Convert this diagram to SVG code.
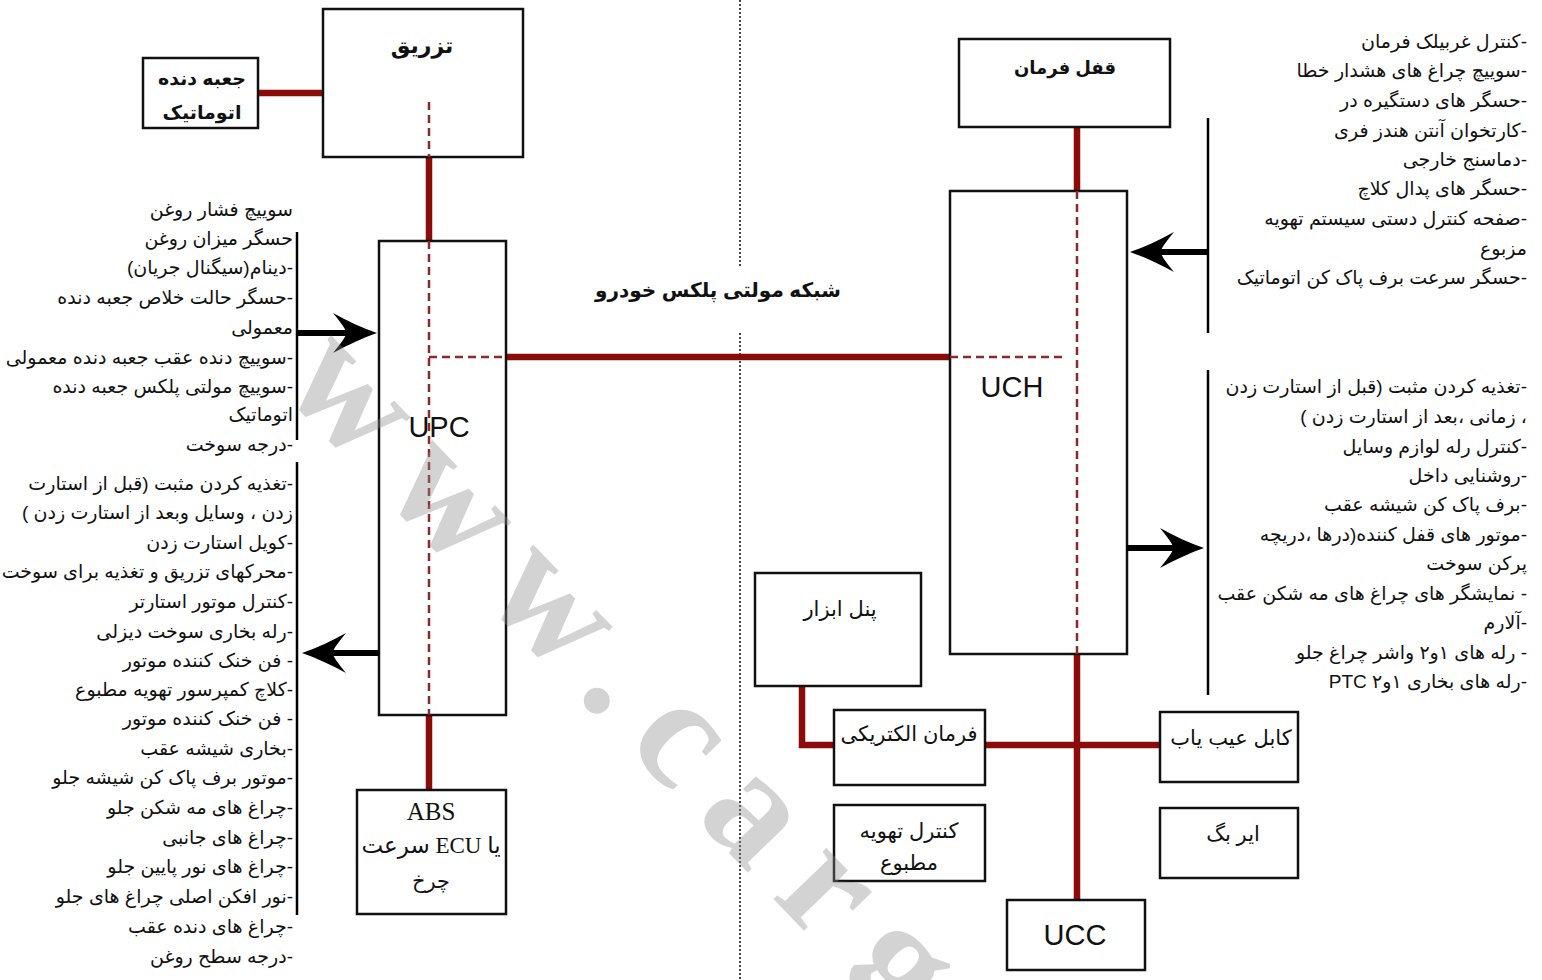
<svg xmlns="http://www.w3.org/2000/svg" width="1542" height="980" viewBox="0 0 1542 980">
<style>
.box{fill:#fff;stroke:#111;stroke-width:2.5}
.bus{fill:none;stroke:#8b0a0a;stroke-width:6.5}
.dash{fill:none;stroke:#8b2a2a;stroke-width:2.5;stroke-dasharray:8 5}
.blk{fill:none;stroke:#000;stroke-width:2.5}
.arr{fill:none;stroke:#000;stroke-width:6}
.sep{fill:none;stroke:#444;stroke-width:2;stroke-dasharray:2 2}
.fa{font-family:"Liberation Sans","DejaVu Sans",sans-serif;font-size:19px;fill:#111;direction:rtl;dominant-baseline:central}
.lb{font-family:"Liberation Sans","DejaVu Sans",sans-serif;font-size:21px;fill:#111;direction:rtl;text-anchor:middle;dominant-baseline:central}
.bd{font-weight:bold}
.en{font-family:"Liberation Sans",Arial,sans-serif;font-size:29px;fill:#111;text-anchor:middle;dominant-baseline:central}
.wm{font-family:"Liberation Serif",serif;font-weight:bold;font-size:160px;letter-spacing:30px;fill:#8c8c8c;fill-opacity:0.38}
</style>
<defs>
<path id="head" d="M0 0 C-14 -5 -30 -12 -44 -20 C-36 -10 -31 -4 -31 0 C-31 4 -36 10 -44 20 C-30 12 -14 5 0 0 Z" fill="#000"/>
</defs>
<rect width="1542" height="980" fill="#fff"/>

<g id="separator">
<line class="sep" x1="740" y1="0" x2="740" y2="267"/>
<line class="sep" x1="740" y1="333" x2="740" y2="980"/>
</g>

<g id="connectors">
<line class="bus" x1="258" y1="93" x2="330" y2="93"/>
<line class="bus" x1="429" y1="157" x2="429" y2="241"/>
<line class="bus" x1="429" y1="715" x2="429" y2="790"/>
<line class="bus" x1="506" y1="357" x2="950" y2="357"/>
<line class="bus" x1="1077" y1="127" x2="1077" y2="191"/>
<line class="bus" x1="1077" y1="654" x2="1077" y2="900"/>
<path class="bus" d="M802 686 V745 H834"/>
<line class="bus" x1="985" y1="745" x2="1160" y2="745"/>
</g>

<g id="node-injection">
<rect class="box" x="323" y="9" width="200" height="148"/>
<text class="lb bd" x="422" y="45" style="font-size:22px">تزریق</text>
</g>
<g id="node-gearbox">
<rect class="box" x="143" y="58" width="115" height="70"/>
<text class="lb bd" x="202" y="78" style="font-size:19px">جعبه دنده</text>
<text class="lb bd" x="202" y="112" style="font-size:19px">اتوماتیک</text>
</g>
<g id="node-upc">
<rect class="box" x="379" y="241" width="127" height="474"/>
<text class="en" x="439" y="427">UPC</text>
</g>
<g id="node-abs">
<rect class="box" x="357" y="790" width="149" height="124"/>
<text class="en" x="431" y="811" style="font-family:'Liberation Serif',serif;font-size:25px">ABS</text>
<text class="lb" x="431" y="845" style="font-family:'Liberation Serif','DejaVu Sans',serif;font-size:23px">یا ECU سرعت</text>
<text class="lb" x="431" y="880">چرخ</text>
</g>
<g id="node-steering-lock">
<rect class="box" x="959" y="39" width="211" height="88"/>
<text class="lb bd" x="1065" y="68" style="font-size:18px">قفل فرمان</text>
</g>
<g id="node-uch">
<rect class="box" x="950" y="191" width="177" height="463"/>
<text class="en" x="1012" y="387">UCH</text>
</g>
<g id="node-panel">
<rect class="box" x="755" y="573" width="166" height="113"/>
<text class="lb" x="840" y="608">پنل ابزار</text>
</g>
<g id="node-electric-steering">
<rect class="box" x="834" y="710" width="151" height="75"/>
<text class="lb" x="909" y="733">فرمان الکتریکی</text>
</g>
<g id="node-ac-control">
<rect class="box" x="834" y="805" width="151" height="76"/>
<text class="lb" x="909" y="830">کنترل تهویه</text>
<text class="lb" x="909" y="862">مطبوع</text>
</g>
<g id="node-diag">
<rect class="box" x="1160" y="712" width="138" height="70"/>
<text class="lb" x="1231" y="737">کابل عیب یاب</text>
</g>
<g id="node-airbag">
<rect class="box" x="1160" y="808" width="138" height="70"/>
<text class="lb" x="1233" y="833">ایر بگ</text>
</g>
<g id="node-ucc">
<rect class="box" x="1007" y="900" width="138" height="70"/>
<text class="en" x="1075" y="935">UCC</text>
</g>

<g id="internal-bus">
<line class="dash" x1="429" y1="102" x2="429" y2="157"/>
<line class="dash" x1="429" y1="241" x2="429" y2="715"/>
<line class="dash" x1="429" y1="357" x2="506" y2="357"/>
<line class="dash" x1="1077" y1="191" x2="1077" y2="654"/>
<line class="dash" x1="950" y1="357" x2="1062" y2="357"/>
</g>

<text class="lb bd" x="718" y="290" style="font-size:20px">شبکه مولتی پلکس خودرو</text>

<g id="arrows">
<line class="blk" x1="297" y1="232" x2="297" y2="440"/>
<line class="arr" x1="297" y1="333" x2="347" y2="333"/>
<use href="#head" transform="translate(377,333)"/>
<line class="blk" x1="297" y1="462" x2="297" y2="915"/>
<line class="arr" x1="379" y1="653" x2="333" y2="653"/>
<use href="#head" transform="translate(302,653) rotate(180)"/>
<line class="blk" x1="1208" y1="118" x2="1208" y2="333"/>
<line class="arr" x1="1208" y1="252" x2="1160" y2="252"/>
<use href="#head" transform="translate(1130,252) rotate(180)"/>
<line class="blk" x1="1208" y1="370" x2="1208" y2="695"/>
<line class="arr" x1="1127" y1="548" x2="1174" y2="548"/>
<use href="#head" transform="translate(1204,548)"/>
</g>

<g id="list-upc-in">
<text class="fa" x="293" y="209">سوییچ فشار روغن</text>
<text class="fa" x="293" y="238">حسگر میزان روغن</text>
<text class="fa" x="293" y="267">-دینام(سیگنال جریان)</text>
<text class="fa" x="293" y="297">-حسگر حالت خلاص جعبه دنده</text>
<text class="fa" x="293" y="327">معمولی</text>
<text class="fa" x="293" y="357">-سوییچ  دنده عقب جعبه دنده معمولی</text>
<text class="fa" x="293" y="386">-سوییچ مولتی پلکس جعبه دنده</text>
<text class="fa" x="293" y="414">اتوماتیک</text>
<text class="fa" x="293" y="444">-درجه سوخت</text>
</g>
<g id="list-upc-out">
<text class="fa" x="293" y="483">-تغذیه کردن مثبت (قبل از استارت</text>
<text class="fa" x="293" y="512">زدن ، وسایل  وبعد از استارت زدن )</text>
<text class="fa" x="293" y="542">-کویل استارت زدن</text>
<text class="fa" x="293" y="571">-محرکهای تزریق و تغذیه برای سوخت</text>
<text class="fa" x="293" y="601">-کنترل موتور استارتر</text>
<text class="fa" x="293" y="631">-رله بخاری سوخت دیزلی</text>
<text class="fa" x="293" y="660">- فن خنک کننده موتور</text>
<text class="fa" x="293" y="689">-کلاچ کمپرسور تهویه مطبوع</text>
<text class="fa" x="293" y="718">- فن خنک کننده موتور</text>
<text class="fa" x="293" y="748">-بخاری شیشه عقب</text>
<text class="fa" x="293" y="777">-موتور برف پاک کن شیشه جلو</text>
<text class="fa" x="293" y="807">-چراغ های مه شکن جلو</text>
<text class="fa" x="293" y="837">-چراغ های جانبی</text>
<text class="fa" x="293" y="866">-چراغ های نور پایین جلو</text>
<text class="fa" x="293" y="896">-نور افکن اصلی چراغ های جلو</text>
<text class="fa" x="293" y="926">-چراغ های دنده عقب</text>
<text class="fa" x="293" y="956">-درجه سطح روغن</text>
</g>
<g id="list-uch-in">
<text class="fa" x="1527" y="41">-کنترل غربیلک فرمان</text>
<text class="fa" x="1527" y="70">-سوییچ چراغ های هشدار خطا</text>
<text class="fa" x="1527" y="100">-حسگر های دستگیره در</text>
<text class="fa" x="1527" y="130">-کارتخوان آنتن هندز فری</text>
<text class="fa" x="1527" y="159">-دماسنج خارجی</text>
<text class="fa" x="1527" y="188">-حسگر های پدال کلاچ</text>
<text class="fa" x="1527" y="218">-صفحه کنترل دستی سیستم تهویه</text>
<text class="fa" x="1527" y="248">مزبوع</text>
<text class="fa" x="1527" y="277">-حسگر سرعت برف پاک کن اتوماتیک</text>
</g>
<g id="list-uch-out">
<text class="fa" x="1527" y="386">-تغذیه کردن مثبت (قبل از استارت زدن</text>
<text class="fa" x="1527" y="416">، زمانی ،بعد از استارت زدن )</text>
<text class="fa" x="1527" y="446">-کنترل رله لوازم وسایل</text>
<text class="fa" x="1527" y="475">-روشنایی داخل</text>
<text class="fa" x="1527" y="504">-برف پاک کن شیشه عقب</text>
<text class="fa" x="1527" y="534">-موتور های قفل کننده(درها ،دریچه</text>
<text class="fa" x="1527" y="563">پرکن سوخت</text>
<text class="fa" x="1527" y="593">- نمایشگر های چراغ های مه شکن عقب</text>
<text class="fa" x="1527" y="622">-آلارم</text>
<text class="fa" x="1527" y="652">- رله های ۱و۲ واشر چراغ جلو</text>
<text class="fa" x="1527" y="681">-رله های بخاری ۱و۲ PTC</text>
</g>

<text class="wm" transform="translate(278,386) rotate(46)">www.carge</text>
</svg>
